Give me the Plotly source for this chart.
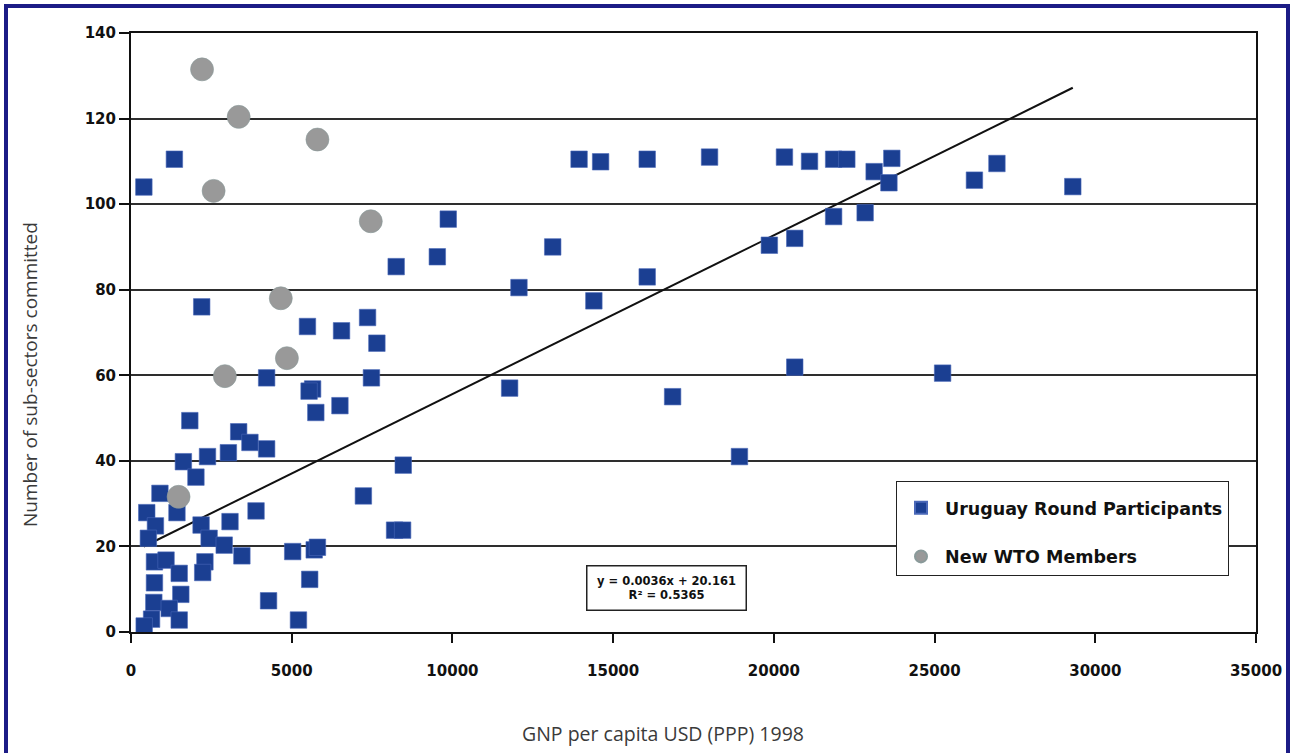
import plotly.graph_objects as go

# ---- data ----
ur_gnp = [400, 1350, 2200, 8250, 5490, 6550, 7360, 7650, 4220, 7480, 5650, 5540, 6500, 5750,
          1830, 3350, 3700, 4220, 1630, 2380, 3030, 2020, 900, 490, 1430, 760, 2180, 540, 2430,
          3080, 3890, 2900, 3450, 5030, 5700, 5800, 730, 1090, 2300, 1500, 2230, 730, 5560, 1550,
          710, 1190, 4280, 1500, 640, 410, 5210, 7230, 8200, 8450, 8470, 9870, 9530, 13120, 12070,
          16060, 14400, 11780, 16850, 18930, 13940, 14610, 16060, 18000, 20330, 21110, 21860,
          22270, 23670, 23120, 23580, 26240, 26940, 29300, 19860, 20650, 21860, 22840, 20650, 25250]
ur_subsectors = [104, 110.5, 76, 85.4, 71.4, 70.4, 73.5, 67.5, 59.4, 59.4, 56.8, 56.3, 52.9, 51.3,
                 49.4, 46.8, 44.3, 42.8, 39.8, 41.0, 41.9, 36.2, 32.4, 27.9, 27.9, 24.8, 25.0, 21.9, 21.9,
                 25.8, 28.3, 20.3, 17.8, 18.8, 19.2, 19.8, 16.4, 16.8, 16.4, 13.7, 13.9, 11.5, 12.3, 8.8,
                 6.9, 5.5, 7.3, 2.8, 3.0, 1.4, 2.8, 31.8, 23.8, 23.8, 39.0, 96.5, 87.7, 90.0, 80.5,
                 83.0, 77.4, 57.0, 55.0, 41.0, 110.5, 109.9, 110.5, 111.0, 111.0, 110.0, 110.5,
                 110.5, 110.7, 107.6, 105.0, 105.6, 109.5, 104.1, 90.4, 92.0, 97.1, 98.0, 61.9, 60.5]

new_gnp = [2210, 3350, 5800, 2570, 7460, 4660, 4850, 2920, 1480]
new_subsectors = [131.5, 120.4, 115.1, 103.1, 96.0, 78.0, 64.0, 59.8, 31.6]

trend_slope = 0.00371
trend_intercept = 18.5
equation_text = "y = 0.0036x + 20.161<br>R² = 0.5365"

x_ticks = [0, 5000, 10000, 15000, 20000, 25000, 30000, 35000]
y_ticks = [0, 20, 40, 60, 80, 100, 120, 140]

all_x = ur_gnp + new_gnp
trend_x = [min(all_x), max(all_x)]
trend_y = [trend_slope * v + trend_intercept for v in trend_x]

# ---- figure ----
fig = go.Figure()
fig.add_trace(go.Scatter(x=trend_x, y=trend_y, mode="lines",
                         line=dict(color="#111111", width=2), showlegend=False,
                         hoverinfo="skip"))
fig.add_trace(go.Scatter(x=ur_gnp, y=ur_subsectors, mode="markers",
                         name="Uruguay Round Participants", legendgroup="a",
                         marker=dict(symbol="square", size=16.5, color="#1b3f92",
                                     line=dict(color="#4a68b8", width=0.6))))
fig.add_trace(go.Scatter(x=new_gnp, y=new_subsectors, mode="markers",
                         name="New WTO Members", legendgroup="b",
                         marker=dict(symbol="circle", size=23, color="#999999",
                                     line=dict(color="#8a9a9a", width=0.6))))

W = 1293; H = 753
L, R, T, B = 131, 37, 33, 121
pw = W - L - R; ph = H - T - B

def px_x(p):
    return (p - L) / pw

def px_y(p):
    return (H - B - p) / ph

fig.update_layout(
    width=W, height=H,
    margin=dict(l=L, r=R, t=T, b=B),
    paper_bgcolor="white", plot_bgcolor="white",
    xaxis=dict(range=[0, 35000], tickvals=x_ticks, ticktext=[str(v) for v in x_ticks],
               showgrid=False, zeroline=False, showline=True, linecolor="#111111", linewidth=2,
               mirror=True, ticks="outside", ticklen=9, tickcolor="#111111", tickwidth=1.5,
               tickfont=dict(family="DejaVu Sans", size=15, color="#111111", weight="bold"),
               ticklabelstandoff=15),
    yaxis=dict(range=[0, 140], tickvals=y_ticks, ticktext=[str(v) for v in y_ticks],
               showgrid=True, gridcolor="#2e2e2e", gridwidth=2, zeroline=False,
               showline=True, linecolor="#111111", linewidth=2, mirror=True,
               ticks="outside", ticklen=10, tickcolor="#111111", tickwidth=1.5,
               tickfont=dict(family="DejaVu Sans", size=15, color="#111111", weight="bold")),
    legend=dict(x=px_x(896), y=px_y(481), xanchor="left", yanchor="top",
                bgcolor="white", bordercolor="#222222", borderwidth=1,
                font=dict(family="DejaVu Sans", size=17.5, color="#111111", weight="bold"),
                title=dict(text=" ", font=dict(size=6)),
                tracegroupgap=23, itemsizing="constant", itemwidth=38),
    showlegend=True,
)

fig.add_annotation(x=16650, y=10.3, xref="x", yref="y", text=equation_text,
                   showarrow=False, align="center",
                   font=dict(family="DejaVu Sans", size=11.5, color="#111111", weight="bold"),
                   bgcolor="white", bordercolor="#222222", borderwidth=1.5,
                   width=156, height=41)

fig.add_annotation(x=px_x(30), y=px_y(375), xref="paper", yref="paper",
                   xanchor="center", yanchor="middle",
                   text="Number of sub-sectors committed", textangle=-90, showarrow=False,
                   font=dict(family="Open Sans", size=19, color="#3a3a3a"))
fig.add_annotation(x=px_x(663), y=px_y(733), xref="paper", yref="paper",
                   xanchor="center", yanchor="middle",
                   text="GNP per capita USD (PPP) 1998", showarrow=False,
                   font=dict(family="Open Sans", size=19.5, color="#3a3a3a"))

# outer navy frame of the picture
fig.add_shape(type="rect", xref="paper", yref="paper",
              x0=px_x(6), x1=px_x(1288), y0=px_y(770), y1=px_y(6),
              line=dict(color="#1c1c86", width=4), fillcolor="rgba(0,0,0,0)", layer="above")

fig.write_html("out.html", config={"displayModeBar": False},
               post_script="document.body.style.margin='0';")
